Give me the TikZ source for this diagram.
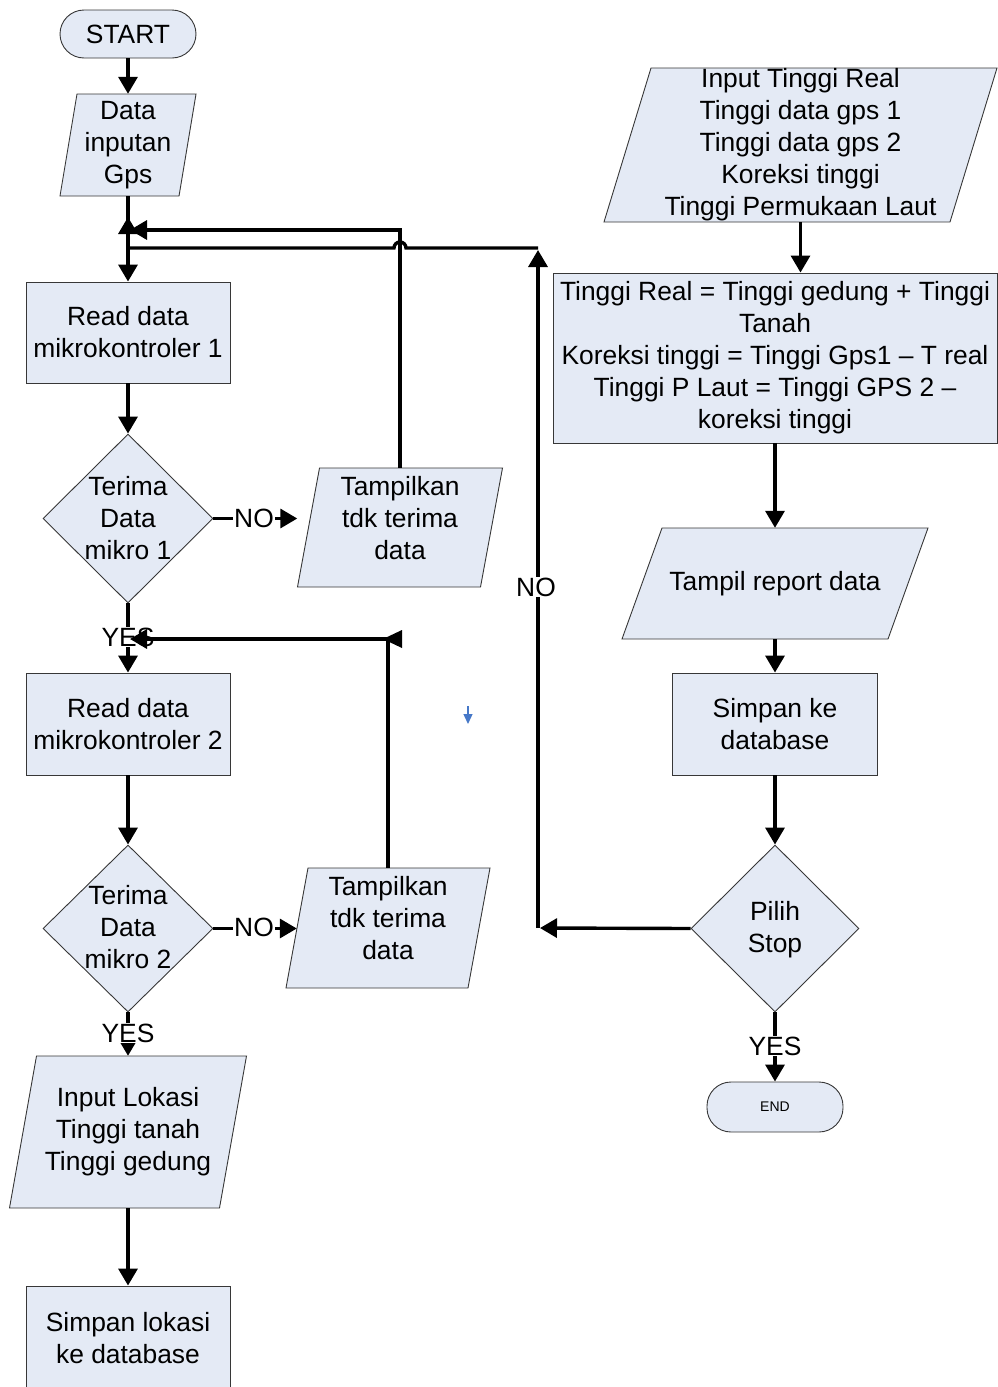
\documentclass[tikz,border=0pt]{standalone}
\usepackage{fontspec}
\setmainfont{Liberation Sans}
\usetikzlibrary{arrows.meta,shapes.geometric}
\definecolor{boxfill}{RGB}{228,234,245}
\definecolor{boxline}{RGB}{55,55,55}
\definecolor{markblue}{RGB}{70,120,200}

% parallelogram (input/output) box: name, centre x, top y, bottom y,
% edge length, slant, text offset, text
\newcommand\flowpara[8]{%
  \draw[shapeln] ({#2-#5/2+#6/2},#3) -- ({#2+#5/2+#6/2},#3) -- ({#2+#5/2-#6/2},#4) -- ({#2-#5/2-#6/2},#4) -- cycle;
  \node[minimum width=#5pt, minimum height={#4pt-#3pt}, inner sep=0pt] (#1) at (#2,{(#3+#4)/2}) {};
  \node[txt] (#1t) at (#2,{(#3+#4)/2+(#7)}) {#8};}

\begin{document}
\begin{tikzpicture}[x=1pt,y=-1pt,
  shapeln/.style={draw=boxline, fill=boxfill, line width=0.9pt},
  txt/.style={font=\fontsize{26.4}{32}\selectfont, align=center, inner sep=0pt},
  procbox/.style={shapeln, txt, rectangle},
  term/.style={shapeln, txt, rectangle, rounded corners=24pt},
  decide/.style={shapeln, diamond, inner sep=0pt},
  conn/.style={line width=3.4pt, draw=black},
  arr/.style={conn, -{Triangle[length=17pt,width=19pt]}},
  lbl/.style={txt, fill=white, inner sep=1pt},
]
\useasboundingbox (0,0) rectangle (998,1387);
\begin{scope}
\clip (0,0) rectangle (998,1387);

% ---------- left column ----------
\node[term, minimum width=136pt, minimum height=48pt] (start) at (128,34) {START};
\flowpara{din}{128}{94}{196}{119}{17}{0}{Data\\inputan\\Gps}
\node[procbox, minimum width=204pt, minimum height=101pt] (r1) at (128,332.5) {Read data\\mikrokontroler 1};
\node[decide, minimum width=170pt, minimum height=169pt] (d1) at (128,518.5) {};
\node[txt] (d1t) at (128,518.5) {Terima\\Data\\mikro 1};
\flowpara{tp1}{400}{468}{587}{183}{22}{-9}{Tampilkan\\tdk terima\\data}
\node[procbox, minimum width=204pt, minimum height=102pt] (r2) at (128,724) {Read data\\mikrokontroler 2};
\node[decide, minimum width=170pt, minimum height=167pt] (d2) at (128,928.5) {};
\node[txt] (d2t) at (128,927) {Terima\\Data\\mikro 2};
\flowpara{tp2}{388}{868}{988}{182}{22}{-10}{Tampilkan\\tdk terima\\data}
\flowpara{il}{128}{1056}{1208}{210}{27}{0}{Input Lokasi\\Tinggi tanah\\Tinggi gedung}
\node[procbox, minimum width=204pt, minimum height=104pt] (sl) at (128,1338) {Simpan lokasi\\ke database};

% ---------- right column ----------
\flowpara{it}{800.5}{68}{222}{346}{47}{0}{Input Tinggi Real\\Tinggi data gps 1\\Tinggi data gps 2\\Koreksi tinggi\\Tinggi Permukaan Laut}
\node[procbox, minimum width=444pt, minimum height=170pt] (tr) at (775,358)
  {Tinggi Real = Tinggi gedung + Tinggi\\Tanah\\Koreksi tinggi = Tinggi Gps1 -- T real\\Tinggi P Laut = Tinggi GPS 2 --\\koreksi tinggi};
\flowpara{trp}{775}{528}{639}{266}{40}{0}{Tampil report data}
\node[procbox, minimum width=205pt, minimum height=102pt] (sk) at (775,724) {Simpan ke\\database};
\node[decide, minimum width=168pt, minimum height=167pt] (ps) at (775,928.5) {};
\node[txt] (pst) at (775,929.5) {Pilih\\Stop};
\node[term, minimum width=136pt, minimum height=50pt, font=\fontsize{14}{16}\selectfont] (end) at (775,1107) {END};

% ---------- connectors ----------
\coordinate (j1) at (130,230);
\coordinate (j2) at (130,639);
\coordinate (n1) at (540,928);
\coordinate (n1b) at (538,928);
\coordinate (n2) at (538,250);
\coordinate (k1) at (538,248);
\coordinate (k2) at (128,217);

\draw[arr] (start.south) -- (din.north);
\draw[arr] (din.south) -- (r1.north);
\draw[arr] (r1.south) -- (d1.north);
\draw[arr, shorten >=11pt] (d1.east) -- (d1.east -| tp1.west);
\node[lbl] (no1) at (254,518) {NO};
\draw[arr] (tp1.north) |- (j1);

\draw[arr] (d1.south) -- (r2.north);
\node[lbl] (yes1) at (128,637) {YES};
\draw[arr] (tp2.north) |- (j2);
\fill (383,639) -- (402,630) -- (402,648) -- cycle;

\draw[arr] (r2.south) -- (d2.north);
\draw[arr] (d2.east) -- (d2.east -| tp2.west);
\node[lbl] (no2) at (254,927) {NO};
\draw[arr] (d2.south) -- (il.north);
\node[lbl] (yes2) at (128,1033) {YES};
\draw[arr] (il.south) -- (sl.north);

\draw[arr] (it.south) -- (it.south |- tr.north);
\draw[arr] (tr.south) -- (trp.north);
\draw[arr] (trp.south) -- (sk.north);
\draw[arr] (sk.south) -- (ps.north);
\draw[arr] (ps.south) -- (end.north);
\node[lbl] (yes3) at (775,1046) {YES};

\draw[arr] (ps.west) -- (n1);
\draw[arr] (n1b) -- (n2);
\node[lbl] (no3) at (536,587) {NO};
\draw[arr] (k1) -- (406,248) arc[start angle=0, end angle=180, radius=6pt] -- (128,248) -- (k2);

% small blue marker
\coordinate (bm1) at (468,706);
\coordinate (bm2) at (468,724);
\draw[markblue, line width=1.3pt, -{Triangle[length=10pt,width=9pt]}] (bm1) -- (bm2);
\end{scope}
\end{tikzpicture}
\end{document}
